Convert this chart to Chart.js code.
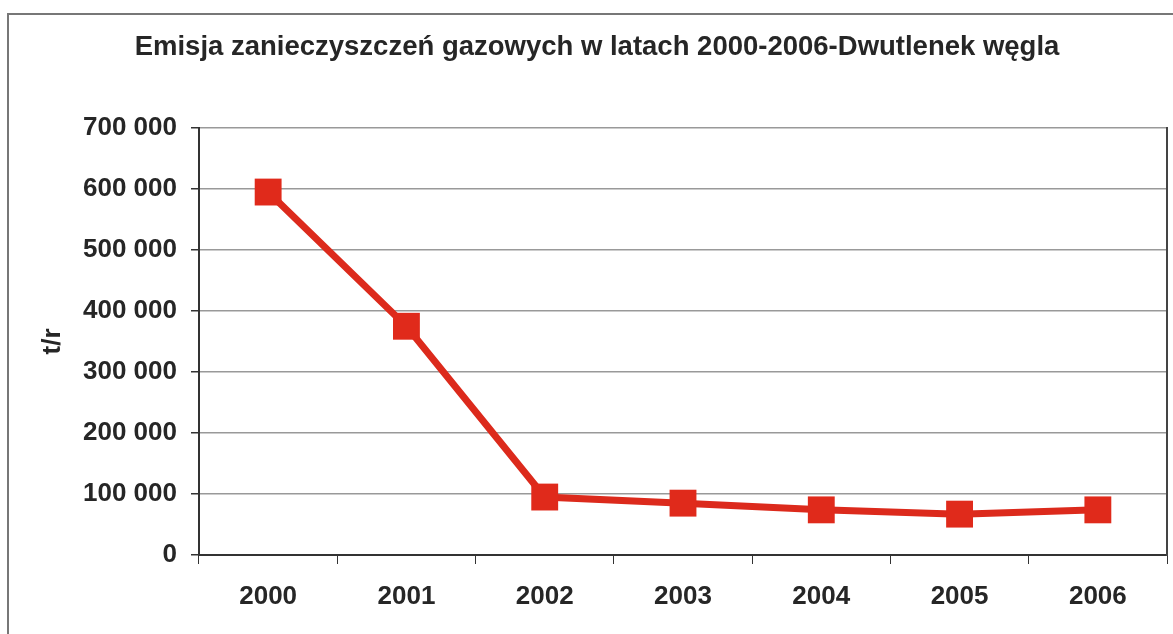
<!DOCTYPE html>
<html>
<head>
<meta charset="utf-8">
<script src="https://cdn.jsdelivr.net/npm/chart.js@4"></script>
<style>
  html, body { margin: 0; padding: 0; background: #fff; }
  #wrap { position: relative; width: 1173px; height: 634px; overflow: hidden; }
  #frame { position: absolute; left: 7px; top: 13px; width: 1200px; height: 640px; border: 2px solid #777; }
  canvas { position: absolute; left: 0; top: 0; }
</style>
</head>
<body>
<div id="wrap">
  <div id="frame"></div>
  <canvas id="chart" width="1173" height="634"></canvas>
</div>
<script>
const years = ['2000', '2001', '2002', '2003', '2004', '2005', '2006'];
const co2 = [595000, 375000, 95000, 85000, 74000, 67000, 74000];
const yTicks = [0, 100000, 200000, 300000, 400000, 500000, 600000, 700000];

const chartTitle = 'Emisja zanieczyszczeń gazowych w latach 2000-2006-Dwutlenek węgla';
const yTitle = 't/r';
const fontFamily = "'Liberation Sans', Arial, Helvetica, sans-serif";
const textColor = '#262626';

function formatNumber(v) {
    return String(v).replace(/\B(?=(\d{3})+(?!\d))/g, ' ');
}

const ctx = document.getElementById('chart').getContext('2d');
new Chart(ctx, {
    type: 'line',
    data: {
        labels: years,
        datasets: [{
            label: 'Dwutlenek węgla',
            data: co2,
            borderColor: '#dc2a1c',
            backgroundColor: '#e02a1b',
            borderWidth: 7,
            pointStyle: 'rect',
            pointRadius: 19,
            pointHoverRadius: 19,
            pointBorderWidth: 0,
            pointBackgroundColor: '#e02a1b',
            tension: 0
        }]
    },
    options: {
        responsive: false,
        animation: false,
        layout: { autoPadding: false, padding: { left: 27, right: 6, bottom: 0 } },
        plugins: {
            legend: { display: false },
            tooltip: { enabled: false },
            title: {
                display: true,
                text: chartTitle,
                color: textColor,
                font: { family: fontFamily, size: 27.5, weight: 'bold', lineHeight: 1.2 },
                padding: { top: 31, bottom: 64 }
            }
        },
        scales: {
            x: {
                offset: true,
                grid: {
                    offset: true,
                    drawOnChartArea: false,
                    drawTicks: true,
                    tickLength: 9,
                    color: '#333'
                },
                border: { display: true, color: '#333', width: 2 },
                ticks: {
                    color: textColor,
                    padding: 17,
                    font: { family: fontFamily, size: 26, weight: 'bold' }
                },
                afterFit: (scale) => { scale.height = 79; }
            },
            y: {
                min: 0,
                max: 700000,
                afterBuildTicks: (scale) => { scale.ticks = yTicks.map(v => ({ value: v })); },
                grid: {
                    color: '#999',
                    lineWidth: 1.5,
                    drawTicks: true,
                    tickLength: 8,
                    tickColor: '#333'
                },
                border: { display: true, color: '#333', width: 2 },
                ticks: {
                    color: textColor,
                    padding: 14,
                    font: { family: fontFamily, size: 26, weight: 'bold' },
                    callback: (v) => formatNumber(v)
                },
                title: {
                    display: true,
                    text: yTitle,
                    color: textColor,
                    padding: { top: 10, bottom: 0 },
                    font: { family: fontFamily, size: 26, weight: 'bold', lineHeight: 1.2 }
                },
                afterFit: (scale) => { scale.width = 172; }
            },
            yRight: {
                position: 'right',
                min: 0,
                max: 700000,
                grid: { display: false, drawOnChartArea: false },
                ticks: { display: false },
                border: { display: true, color: '#444', width: 2 },
                afterFit: (scale) => { scale.width = 0; }
            }
        }
    }
});
</script>
</body>
</html>
